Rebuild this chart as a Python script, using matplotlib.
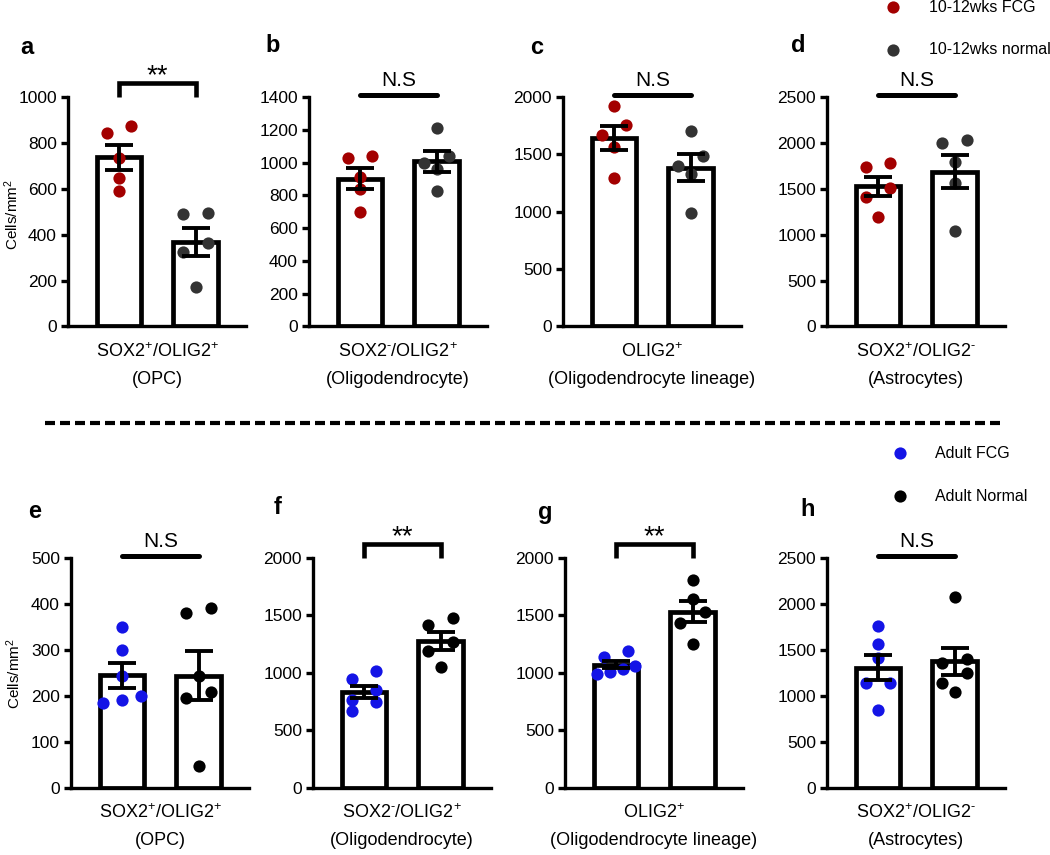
import numpy as np
import matplotlib
matplotlib.use('Agg')
import matplotlib.pyplot as plt
from matplotlib.lines import Line2D

plt.rcParams['font.family'] = ['Liberation Sans', 'DejaVu Sans']
plt.rcParams['mathtext.fontset'] = 'custom'
plt.rcParams['mathtext.rm'] = 'Liberation Sans'
plt.rcParams['mathtext.it'] = 'Liberation Sans:italic'
plt.rcParams['mathtext.bf'] = 'Liberation Sans:bold'

# cells/mm2, one value per animal
a_fcg = [874, 841, 736, 649, 589]
a_normal = [496, 490, 365, 326, 170]
b_fcg = [1041, 1027, 912, 836, 697]
b_normal = [1209, 1041, 996, 963, 826]
c_fcg = [1919, 1754, 1673, 1565, 1290]
c_normal = [1704, 1490, 1403, 1328, 991]
d_fcg = [1776, 1736, 1511, 1413, 1194]
d_normal = [2027, 1995, 1795, 1558, 1045]
e_fcg = [349, 299, 242, 200, 191, 184]
e_normal = [391, 380, 242, 209, 195, 46]
f_fcg = [1012, 945, 851, 764, 747, 663]
f_normal = [1474, 1418, 1265, 1186, 1047]
g_fcg = [1193, 1141, 1062, 1033, 1004, 989]
g_normal = [1804, 1645, 1528, 1435, 1252]
h_fcg = [1756, 1562, 1407, 1136, 1136, 840]
h_normal = [2074, 1396, 1353, 1245, 1136, 1035]

letters = ['a', 'b', 'c', 'd', 'e', 'f', 'g', 'h']
fcg = [a_fcg, b_fcg, c_fcg, d_fcg, e_fcg, f_fcg, g_fcg, h_fcg]
normal = [a_normal, b_normal, c_normal, d_normal, e_normal, f_normal, g_normal, h_normal]
ymax = [1000, 1400, 2000, 2500, 500, 2000, 2000, 2500]
ystep = [200, 200, 500, 500, 100, 500, 500, 500]
sig = ['**', 'N.S', 'N.S', 'N.S', 'N.S', '**', '**', 'N.S']
cell_types = [(r'SOX2$^{+}$/OLIG2$^{+}$', '(OPC)'),
              (r'SOX2$^{\text{-}}$/OLIG2$^{+}$', '(Oligodendrocyte)'),
              (r'OLIG2$^{+}$', '(Oligodendrocyte lineage)'),
              (r'SOX2$^{+}$/OLIG2$^{\text{-}}$', '(Astrocytes)')] * 2
legend_top = ['10-12wks FCG', '10-12wks normal']
legend_bottom = ['Adult FCG', 'Adult Normal']

red, grey = '#a30000', '#333333'
blue, black = '#1414e6', '#000000'

W, H = 1050, 855
fig = plt.figure(figsize=(10.5, 8.55), dpi=100)

# axes boxes in pixels
lefts = [68, 309, 563, 827, 71, 313, 565, 827]
tops = [97] * 4 + [558] * 4
bottoms = [326.5] * 4 + [787.5] * 4
ax_w = 178
label_xy = [(27, 48), (273, 45), (537, 48), (798, 45),
            (35, 511), (278, 507), (545, 512), (808, 510)]


def spread(vals, top, h_px, d_px=11.7):
    # 点太近的放一排，左右摊开
    vals = np.asarray(vals, float)
    off = np.zeros(len(vals))
    rows = []
    for i in np.argsort(-vals, kind='stable'):
        if rows and (vals[rows[-1][0]] - vals[i]) * h_px / top < d_px:
            rows[-1].append(i)
        else:
            rows.append([i])
    for r in rows:
        k = len(r)
        if k == 1:
            continue
        w = 0.16 if k == 2 else 0.25
        for j, o in zip(sorted(r, key=lambda j: vals[j]), np.linspace(-w, w, k)):
            off[j] = o
    return off


for i in range(8):
    l, t, b = lefts[i], tops[i], bottoms[i]
    ax = fig.add_axes([l / W, 1 - b / H, ax_w / W, (b - t) / H])
    groups = [fcg[i], normal[i]]
    cols = [red, grey] if i < 4 else [blue, black]
    means = [np.mean(g) for g in groups]
    sems = [np.std(g, ddof=1) / np.sqrt(len(g)) for g in groups]

    ax.bar([0, 1], means, width=0.58, color='white', edgecolor='black',
           linewidth=3.4, zorder=1)
    for x, g, c in zip([0, 1], groups, cols):
        ax.plot(x + spread(g, ymax[i], b - t), g, 'o', ms=8.8, mfc=c, mec=c,
                mew=0, zorder=2, clip_on=False)
    ax.errorbar([0, 1], means, yerr=sems, fmt='none', ecolor='black',
                elinewidth=2.8, capsize=10, capthick=2.8, zorder=3)

    ax.set_xlim(-0.67, 1.66)
    ax.set_ylim(0, ymax[i])
    ax.set_yticks(np.arange(0, ymax[i] + 1, ystep[i]))
    ax.set_xticks([])
    ax.spines['top'].set_visible(False)
    ax.spines['right'].set_visible(False)
    ax.spines['left'].set_linewidth(2.4)
    ax.spines['bottom'].set_linewidth(2.4)
    ax.tick_params(axis='y', length=5, width=2.4, labelsize=12.5, pad=3)

    top = ymax[i]
    if sig[i] == '**':
        ax.plot([0, 0, 1, 1], [top, 1.062 * top, 1.062 * top, top], color='black',
                lw=3.3, clip_on=False, solid_joinstyle='miter', solid_capstyle='butt')
        ax.annotate('**', xy=(0.5, 1.062 * top), xytext=(0, 0), textcoords='offset points',
                    ha='center', va='baseline', fontsize=20, annotation_clip=False)
    else:
        ax.plot([0, 1], [1.008 * top] * 2, color='black', lw=3.6, clip_on=False,
                solid_capstyle='round')
        ax.annotate('N.S', xy=(0.5, 1.008 * top), xytext=(0, 6.5), textcoords='offset points',
                    ha='center', va='baseline', fontsize=15, annotation_clip=False)

    line1, line2 = cell_types[i]
    ax.annotate(line1, xy=(0.5, 0), xycoords='axes fraction', xytext=(0, -22),
                textcoords='offset points', ha='center', va='baseline', fontsize=13)
    ax.annotate(line2, xy=(0.5, 0), xycoords='axes fraction', xytext=(0, -41.5),
                textcoords='offset points', ha='center', va='baseline', fontsize=13)

    lx, ly = label_xy[i]
    fig.text(lx / W, 1 - ly / H, letters[i], fontsize=17, fontweight='bold',
             ha='center', va='center')

# y labels
fig.text(12 / W, 1 - 214 / H, 'Cells/mm$^2$', rotation=90, ha='center', va='center', fontsize=11)
fig.text(14 / W, 1 - 673 / H, 'Cells/mm$^2$', rotation=90, ha='center', va='center', fontsize=11)

# legends
for txt, c, y in zip(legend_top, [red, grey], [7, 50]):
    fig.add_artist(Line2D([893 / W], [1 - y / H], marker='o', ms=8.8, mfc=c, mec=c,
                          mew=0, ls='none', transform=fig.transFigure))
    fig.text(929 / W, 1 - y / H, txt, fontsize=11.5, va='center')
for txt, c, y in zip(legend_bottom, [blue, black], [453, 496]):
    fig.add_artist(Line2D([900 / W], [1 - y / H], marker='o', ms=8.8, mfc=c, mec=c,
                          mew=0, ls='none', transform=fig.transFigure))
    fig.text(935 / W, 1 - y / H, txt, fontsize=11.5, va='center')

# dashed separator
fig.add_artist(Line2D([45 / W, 1001 / W], [1 - 423 / H] * 2, color='black', lw=3,
                      ls=(0, (2.4, 1.2)), transform=fig.transFigure))

fig.savefig('out.png', dpi=100)
